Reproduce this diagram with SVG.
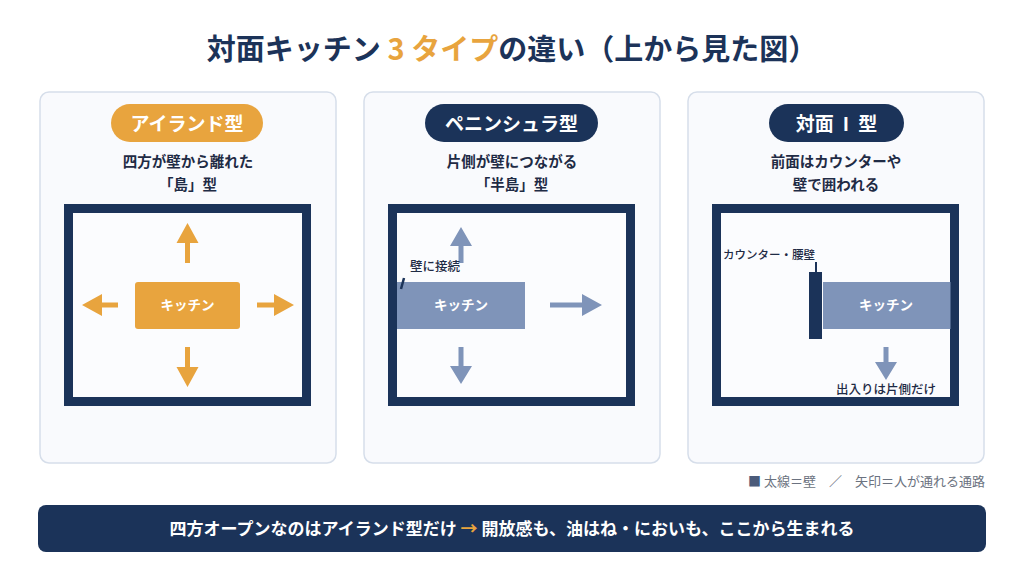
<svg xmlns="http://www.w3.org/2000/svg" width="1024" height="576" viewBox="0 0 1024 576">
<style>
text{font-family:"Noto Sans CJK JP","Noto Sans",sans-serif}
.title{font-size:29px;font-weight:700;fill:#1C3359}
.panel{fill:#F9FAFD;stroke:#D6DEEA;stroke-width:1.5}
.pill-t{font-size:19px;font-weight:700;fill:#FFFFFF}
.sub{font-size:14.5px;font-weight:700;fill:#1F2B45}
.room{fill:#FBFCFE;stroke:#1B3359;stroke-width:9}
.ktext{font-size:13.5px;font-weight:700;fill:#FFFFFF}
.lbl{font-size:12.5px;font-weight:500;fill:#1F2B45}
.orange{fill:#E8A43E}
.slate{fill:#7F94B9}
.navy{fill:#1B3359}
</style>
<rect width="1024" height="576" fill="#FFFFFF"/>
<text class="title" x="512" y="60" text-anchor="middle">対面キッチン<tspan fill="#E8A43E"> 3 タイプ</tspan>の違い（上から見た図）</text>

<g id="panel-island">
<rect class="panel" x="40" y="92" width="296" height="371" rx="9"/>
<rect class="orange" x="111" y="104" width="152" height="38" rx="19"/>
<text class="pill-t" x="187" y="131" text-anchor="middle">アイランド型</text>
<text class="sub" x="188" y="167" text-anchor="middle">四方が壁から離れた</text>
<text class="sub" x="188" y="189.5" text-anchor="middle">「島」型</text>
<rect class="room" x="68.5" y="208.5" width="238" height="193"/>
<rect class="orange" x="135" y="282" width="105" height="47" rx="3"/>
<text class="ktext" x="187.5" y="310" text-anchor="middle">キッチン</text>
</g>

<g id="panel-peninsula">
<rect class="panel" x="364" y="92" width="296" height="371" rx="9"/>
<rect class="navy" x="425" y="104" width="173" height="38" rx="19"/>
<text class="pill-t" x="511.5" y="131" text-anchor="middle">ペニンシュラ型</text>
<text class="sub" x="512" y="167" text-anchor="middle">片側が壁につながる</text>
<text class="sub" x="512" y="189.5" text-anchor="middle">「半島」型</text>
<rect class="room" x="392.5" y="208.5" width="238" height="193"/>
<rect class="slate" x="397" y="282" width="128" height="47"/>
<text class="ktext" x="461" y="310" text-anchor="middle">キッチン</text>
<line x1="401" y1="289" x2="404" y2="278" stroke="#1B3359" stroke-width="2.5"/>
</g>

<g id="panel-i">
<rect class="panel" x="688" y="92" width="296" height="371" rx="9"/>
<rect class="navy" x="769" y="104" width="135" height="38" rx="19"/>
<text class="pill-t" x="836.5" y="131" text-anchor="middle">対面<tspan dx="9">I</tspan><tspan dx="9">型</tspan></text>
<text class="sub" x="836" y="167" text-anchor="middle">前面はカウンターや</text>
<text class="sub" x="836" y="189.5" text-anchor="middle">壁で囲われる</text>
<rect class="room" x="716.5" y="208.5" width="238" height="193"/>
<rect class="slate" x="823" y="282" width="127.5" height="47"/>
<text class="ktext" x="886" y="310" text-anchor="middle">キッチン</text>
<rect class="navy" x="809" y="272" width="13" height="67"/>
<line x1="816" y1="262" x2="816" y2="272" stroke="#1B3359" stroke-width="2"/>
</g>

<g id="connectors">
<polygon class="orange" points="187.5,223 198.5,243 190,243 190,263 185,263 185,243 176.5,243"/>
<polygon class="orange" points="187.5,387 198.5,367 190,367 190,347 185,347 185,367 176.5,367"/>
<polygon class="orange" points="82,305 102,294 102,302.5 118,302.5 118,307.5 102,307.5 102,316"/>
<polygon class="orange" points="294,305 274,294 274,302.5 257,302.5 257,307.5 274,307.5 274,316"/>
<polygon class="slate" points="461,227 472,246 463.5,246 463.5,263 458.5,263 458.5,246 450,246"/>
<polygon class="slate" points="602,305 582,294 582,302.5 550,302.5 550,307.5 582,307.5 582,316"/>
<polygon class="slate" points="461,384 472,366 463.5,366 463.5,347 458.5,347 458.5,366 450,366"/>
<polygon class="slate" points="886,380 897,362 888.5,362 888.5,347 883.5,347 883.5,362 875,362"/>
</g>

<g id="labels">
<text class="lbl" x="410" y="271">壁に接続</text>
<text class="lbl" x="723" y="258.5" style="font-size:11.5px">カウンター・腰壁</text>
<text class="lbl" x="886" y="394" text-anchor="middle">出入りは片側だけ</text>
</g>

<g id="legend">
<text x="985" y="485.5" text-anchor="end" style="font-size:13px;fill:#6B7280"><tspan fill="#4B5B7A">■</tspan> 太線＝壁　／　矢印＝人が通れる通路</text>
</g>

<g id="banner">
<rect x="38" y="505" width="948" height="47" rx="8" fill="#1B3359"/>
<text x="512" y="534.5" text-anchor="middle" style="font-size:17px;font-weight:700;fill:#FFFFFF">四方オープンなのはアイランド型だけ <tspan fill="#E8A43E">→</tspan> 開放感も、油はね・においも、ここから生まれる</text>
</g>
</svg>
